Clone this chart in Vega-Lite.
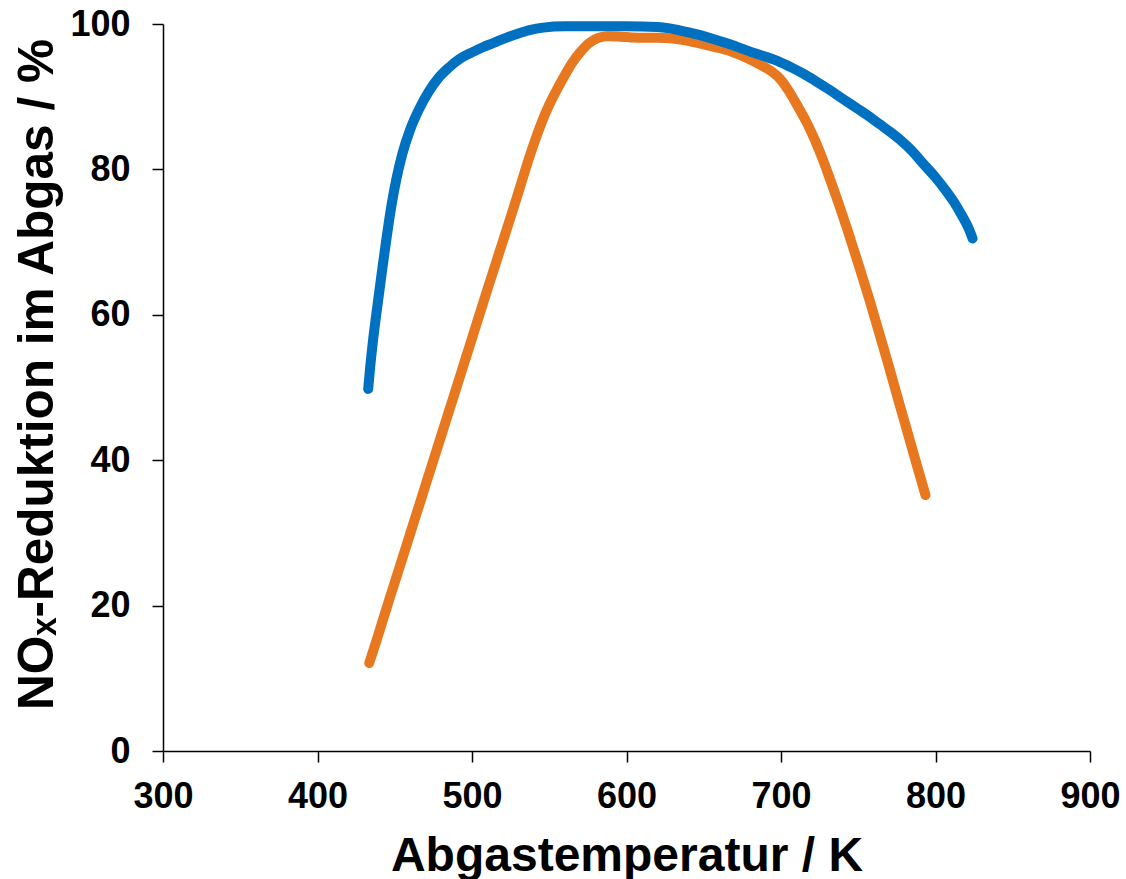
{
  "$schema": "https://vega.github.io/schema/vega-lite/v6.json",
  "width": 927,
  "height": 727,
  "autosize": {"type": "none"},
  "padding": {"left": 163, "top": 24, "right": 36, "bottom": 128},
  "background": "white",
  "config": {
    "view": {"stroke": null},
    "axis": {
      "grid": false,
      "domainColor": "black",
      "domainWidth": 1.5,
      "tickColor": "black",
      "tickWidth": 1.5,
      "tickSize": 11,
      "labelFlush": false,
      "labelOverlap": false,
      "labelFont": "Liberation Sans",
      "labelFontWeight": "bold",
      "labelFontSize": 36,
      "labelColor": "black",
      "titleFont": "Liberation Sans",
      "titleFontWeight": "bold",
      "titleColor": "black"
    }
  },
  "data": {
    "values": [
      {"s": "orange", "T": 433.5, "V": 12.1},
      {"s": "orange", "T": 437, "V": 14.4},
      {"s": "orange", "T": 442, "V": 17.8},
      {"s": "orange", "T": 447, "V": 21.2},
      {"s": "orange", "T": 453, "V": 25.2},
      {"s": "orange", "T": 460, "V": 29.9},
      {"s": "orange", "T": 467, "V": 34.6},
      {"s": "orange", "T": 474, "V": 39.3},
      {"s": "orange", "T": 481, "V": 44.0},
      {"s": "orange", "T": 488, "V": 48.7},
      {"s": "orange", "T": 495, "V": 53.4},
      {"s": "orange", "T": 503, "V": 58.8},
      {"s": "orange", "T": 510, "V": 63.5},
      {"s": "orange", "T": 518, "V": 68.8},
      {"s": "orange", "T": 526, "V": 74.1},
      {"s": "orange", "T": 532, "V": 78.2},
      {"s": "orange", "T": 537, "V": 81.6},
      {"s": "orange", "T": 541, "V": 84.1},
      {"s": "orange", "T": 545, "V": 86.4},
      {"s": "orange", "T": 550, "V": 88.9},
      {"s": "orange", "T": 556, "V": 91.4},
      {"s": "orange", "T": 561, "V": 93.3},
      {"s": "orange", "T": 565, "V": 94.7},
      {"s": "orange", "T": 570, "V": 96.1},
      {"s": "orange", "T": 576, "V": 97.4},
      {"s": "orange", "T": 582, "V": 98.1},
      {"s": "orange", "T": 588, "V": 98.3},
      {"s": "orange", "T": 600, "V": 98.2},
      {"s": "orange", "T": 610, "V": 98.1},
      {"s": "orange", "T": 620, "V": 98.1},
      {"s": "orange", "T": 630, "V": 98.0},
      {"s": "orange", "T": 640, "V": 97.7},
      {"s": "orange", "T": 650, "V": 97.2},
      {"s": "orange", "T": 660, "V": 96.7},
      {"s": "orange", "T": 667, "V": 96.3},
      {"s": "orange", "T": 675, "V": 95.6},
      {"s": "orange", "T": 683, "V": 94.8},
      {"s": "orange", "T": 690, "V": 94.0},
      {"s": "orange", "T": 695, "V": 93.3},
      {"s": "orange", "T": 700, "V": 92.3},
      {"s": "orange", "T": 705, "V": 90.8},
      {"s": "orange", "T": 710, "V": 89.0},
      {"s": "orange", "T": 717, "V": 86.3},
      {"s": "orange", "T": 722, "V": 84.0},
      {"s": "orange", "T": 727, "V": 81.4},
      {"s": "orange", "T": 732, "V": 78.5},
      {"s": "orange", "T": 737, "V": 75.5},
      {"s": "orange", "T": 743, "V": 71.7},
      {"s": "orange", "T": 749, "V": 67.7},
      {"s": "orange", "T": 753, "V": 65.0},
      {"s": "orange", "T": 757.5, "V": 61.9},
      {"s": "orange", "T": 762, "V": 58.6},
      {"s": "orange", "T": 767, "V": 55.0},
      {"s": "orange", "T": 771, "V": 52.0},
      {"s": "orange", "T": 775, "V": 49.0},
      {"s": "orange", "T": 779, "V": 46.0},
      {"s": "orange", "T": 783, "V": 43.0},
      {"s": "orange", "T": 787, "V": 40.0},
      {"s": "orange", "T": 790, "V": 37.8},
      {"s": "orange", "T": 793.5, "V": 35.2},
      {"s": "blue", "T": 432.8, "V": 49.8},
      {"s": "blue", "T": 434, "V": 52.6},
      {"s": "blue", "T": 436, "V": 56.6},
      {"s": "blue", "T": 438, "V": 60.0},
      {"s": "blue", "T": 440, "V": 63.2},
      {"s": "blue", "T": 442, "V": 66.4},
      {"s": "blue", "T": 444, "V": 69.5},
      {"s": "blue", "T": 446, "V": 72.5},
      {"s": "blue", "T": 448, "V": 75.2},
      {"s": "blue", "T": 451, "V": 78.6},
      {"s": "blue", "T": 455, "V": 82.2},
      {"s": "blue", "T": 460, "V": 85.5},
      {"s": "blue", "T": 466, "V": 88.4},
      {"s": "blue", "T": 472, "V": 90.7},
      {"s": "blue", "T": 478, "V": 92.5},
      {"s": "blue", "T": 485, "V": 94.0},
      {"s": "blue", "T": 492, "V": 95.2},
      {"s": "blue", "T": 500, "V": 96.1},
      {"s": "blue", "T": 507, "V": 96.8},
      {"s": "blue", "T": 514, "V": 97.4},
      {"s": "blue", "T": 522, "V": 98.1},
      {"s": "blue", "T": 530, "V": 98.7},
      {"s": "blue", "T": 538, "V": 99.2},
      {"s": "blue", "T": 546, "V": 99.5},
      {"s": "blue", "T": 560, "V": 99.7},
      {"s": "blue", "T": 580, "V": 99.7},
      {"s": "blue", "T": 600, "V": 99.7},
      {"s": "blue", "T": 620, "V": 99.6},
      {"s": "blue", "T": 628, "V": 99.4},
      {"s": "blue", "T": 635, "V": 99.1},
      {"s": "blue", "T": 645, "V": 98.6},
      {"s": "blue", "T": 655, "V": 98.0},
      {"s": "blue", "T": 667, "V": 97.2},
      {"s": "blue", "T": 680, "V": 96.2},
      {"s": "blue", "T": 690, "V": 95.5},
      {"s": "blue", "T": 699, "V": 94.8},
      {"s": "blue", "T": 707, "V": 94.0},
      {"s": "blue", "T": 715, "V": 93.1},
      {"s": "blue", "T": 722, "V": 92.2},
      {"s": "blue", "T": 731, "V": 91.0},
      {"s": "blue", "T": 740, "V": 89.7},
      {"s": "blue", "T": 750, "V": 88.3},
      {"s": "blue", "T": 757, "V": 87.3},
      {"s": "blue", "T": 764, "V": 86.2},
      {"s": "blue", "T": 771, "V": 85.1},
      {"s": "blue", "T": 778, "V": 83.9},
      {"s": "blue", "T": 785, "V": 82.5},
      {"s": "blue", "T": 792, "V": 80.8},
      {"s": "blue", "T": 800, "V": 78.9},
      {"s": "blue", "T": 807, "V": 77.0},
      {"s": "blue", "T": 812, "V": 75.5},
      {"s": "blue", "T": 817, "V": 73.7},
      {"s": "blue", "T": 821, "V": 72.1},
      {"s": "blue", "T": 824, "V": 70.5}
    ]
  },
  "encoding": {
    "x": {
      "field": "T",
      "type": "quantitative",
      "scale": {"domain": [300, 900], "nice": false, "zero": false},
      "axis": {
        "values": [300, 400, 500, 600, 700, 800, 900],
        "labelPadding": 17,
        "title": "Abgastemperatur / K",
        "titleFontSize": 48,
        "titleBaseline": "alphabetic",
        "titleY": 119
      }
    },
    "y": {
      "field": "V",
      "type": "quantitative",
      "scale": {"domain": [0, 100], "nice": false},
      "axis": {
        "values": [0, 20, 40, 60, 80, 100],
        "labelPadding": 22,
        "title": "NOₓ-Reduktion im Abgas / %",
        "titleFontSize": 49.5,
        "titleAngle": -90,
        "titleBaseline": "alphabetic",
        "titleAlign": "center",
        "titleX": -111,
        "titleY": 350
      }
    }
  },
  "layer": [
    {
      "transform": [{"filter": "datum.s === 'orange'"}],
      "mark": {"type": "line", "color": "#E87820", "strokeWidth": 10, "strokeCap": "round", "strokeJoin": "round", "interpolate": "monotone"}
    },
    {
      "transform": [{"filter": "datum.s === 'blue'"}],
      "mark": {"type": "line", "color": "#0070C0", "strokeWidth": 10, "strokeCap": "round", "strokeJoin": "round", "interpolate": "monotone"}
    }
  ]
}
